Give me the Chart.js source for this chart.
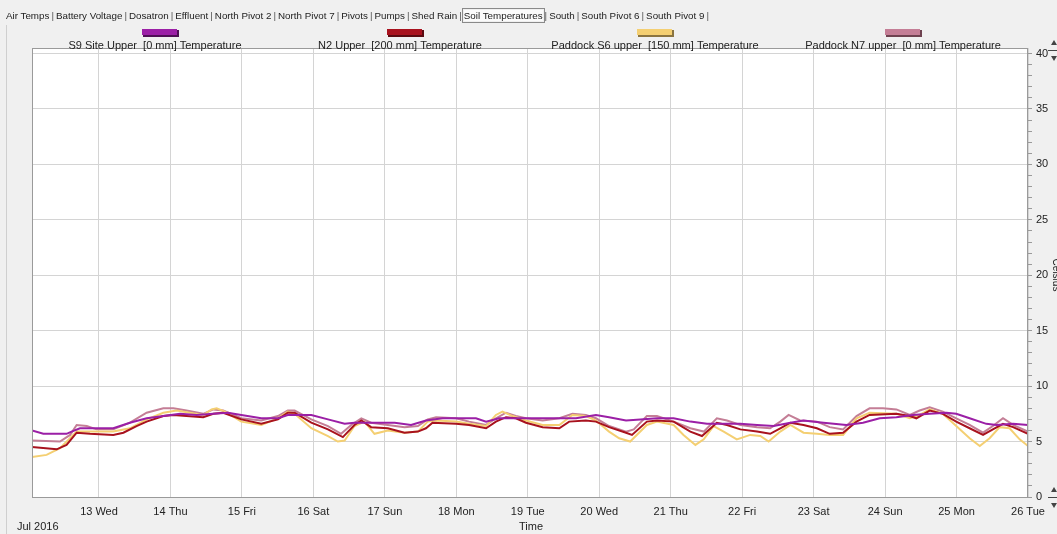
<!DOCTYPE html>
<html><head><meta charset="utf-8">
<script src="https://cdn.jsdelivr.net/npm/chart.js@4.4.1/dist/chart.umd.min.js"></script>
<style>
html,body{margin:0;padding:0;background:#f0f0f0;overflow:hidden;}
#wrap{position:relative;width:1057px;height:534px;}
#tabs{position:absolute;left:6px;top:10px;font:9.8px "Liberation Sans",Arial,sans-serif;color:#222;white-space:nowrap;z-index:2;}
#tabs span.sel{outline:1px solid #8a8a8a;outline-offset:1px;background:#fbfbfb}
#tabs span.sep{color:#555;margin:0 2px}
canvas{position:absolute;left:0;top:0}
</style></head><body>
<div id="wrap"><div id="tabs"></div><canvas id="c" width="1057" height="534"></canvas></div>
<script>
// ---- data (x = hours since 12 Jul 2016 00:00, y = °C) ----
const tabNames = ["Air Temps","Battery Voltage","Dosatron","Effluent","North Pivot 2","North Pivot 7","Pivots","Pumps","Shed Rain","Soil Temperatures","South","South Pivot 6","South Pivot 9"];
const selectedTab = "Soil Temperatures";
const tickLabels = ["13 Wed","14 Thu","15 Fri","16 Sat","17 Sun","18 Mon","19 Tue","20 Wed","21 Thu","22 Fri","23 Sat","24 Sun","25 Mon","26 Tue"];
const seriesNames = ["S9 Site Upper  [0 mm] Temperature","N2 Upper  [200 mm] Temperature","Paddock S6 upper  [150 mm] Temperature","Paddock N7 upper  [0 mm] Temperature"];

const s9Hours = [1.5,5.3,13.1,14.8,17.6,23.2,28.8,34.4,40,45.6,51.2,56.8,62.4,67.3,71.8,78.5,84.1,87.4,95.3,100.9,106.5,109.8,123.3,128.8,133.8,139.4,150.6,154,158.4,178.6,184.2,190.9,195.3,201,205.8,211.4,217,222.6,228.2,239.4,245,250.6,256.2,260.6,267.3,275,280.6,286.2,291.8,297.4,303,308.6,311.9,316.4,322,325.4,331,336];
const s9Temps = [6.0,5.7,5.7,5.9,6.2,6.2,6.2,6.7,7.1,7.3,7.5,7.4,7.5,7.6,7.4,7.1,7.1,7.4,7.4,7.0,6.6,6.7,6.7,6.5,6.9,7.1,7.1,6.8,7.1,7.1,7.1,7.4,7.2,6.9,7.0,7.1,7.1,6.8,6.6,6.6,6.5,6.4,6.7,6.9,6.7,6.5,6.7,7.1,7.2,7.4,7.5,7.6,7.5,7.1,6.6,6.5,6.6,6.5];

const n2Hours = [1.5,9.8,13.1,16.5,21,28.8,32.2,36.6,40,45.6,49,53.4,59,62.4,65.7,71.8,78.5,84.1,87.4,89.7,95.3,100.9,105.9,109.8,112.1,115.4,121,126.6,131.1,133.8,136,143.9,148.3,154,157.3,160.7,164,167.4,173,178.6,181.9,187.5,190.9,195.3,201,203,208,211.4,217,222.6,226.5,231.5,234.9,239.4,245,249.4,252.8,256.2,260.6,265.1,269.4,273.9,278.4,282.8,291.8,296.3,298.5,303,307.4,311.9,316.4,320.9,324.2,327.6,331,336];
const n2Temps = [4.5,4.3,4.7,5.8,5.7,5.6,5.8,6.4,6.8,7.3,7.4,7.3,7.2,7.5,7.6,7.0,6.6,7.0,7.6,7.6,6.7,6.1,5.4,6.5,6.9,6.3,6.2,5.8,5.9,6.2,6.7,6.6,6.5,6.2,6.8,7.2,7.1,6.7,6.3,6.2,6.8,6.9,6.8,6.3,5.8,5.6,6.8,6.9,6.8,5.9,5.5,6.7,6.5,6.1,5.9,5.7,6.2,6.7,6.5,6.2,5.7,5.8,6.8,7.4,7.5,7.3,7.1,7.8,7.5,6.8,6.2,5.6,6.1,6.6,6.3,5.7];

const s6Hours = [1.5,6.4,10.9,16.5,21,28.8,34.4,40,45.6,50.1,54.5,59,61.8,63.5,66.3,71.8,78.5,84.1,87.4,89.7,95.3,100.9,104.2,106.5,109.8,113.2,116.5,121,126.6,131.1,134.4,137.2,143.9,148.3,154,157.3,159.5,162.9,167.4,173,178.6,183,187.5,190.9,195.3,198.7,202.4,208,211.4,217,220.3,224.3,227.1,230.4,233.8,238.2,242.7,246.1,248.9,252.8,256.2,260.6,265.1,269.4,273.9,278.4,282.8,291.8,296.3,299.6,303,307.4,311.9,316.4,319.8,323.1,326.5,329.8,333.2,336];
const s6Temps = [3.6,3.8,4.4,5.9,5.9,5.9,6.2,7.0,7.6,7.8,7.6,7.4,7.9,8.0,7.7,6.8,6.5,7.1,7.7,7.5,6.2,5.5,5.0,5.1,6.4,6.8,5.7,6.0,5.8,5.9,6.8,6.9,6.8,6.6,6.4,7.4,7.7,7.3,6.9,6.5,6.5,7.4,7.3,6.9,5.9,5.3,5.0,6.5,6.8,6.5,5.6,4.7,5.2,6.4,5.9,5.2,5.6,5.5,5.0,5.9,6.5,5.8,5.7,5.6,5.6,7.1,7.6,7.5,7.1,7.4,7.9,7.5,6.4,5.3,4.6,5.3,6.3,6.2,5.2,4.6];

const n7Hours = [1.5,10.9,14.3,16.5,19.9,23.2,28.8,34.4,40,45.6,49,53.4,59,62.4,65.7,71.8,78.5,84.1,87.4,89.7,95.3,100.9,105.3,108.7,112.1,115.4,121,126.6,131.1,134.4,137.2,143.9,148.3,154,157.3,160.7,164,167.4,173,178.6,183,187.5,190.9,195.3,201,203.6,208,211.4,217,222.6,227.1,231.5,234.9,239.4,245,249.4,252.8,255.6,259.5,265.1,269.4,273.9,278.4,282.8,287.3,291.8,296.3,299.6,303,307.4,311.9,316.4,320.9,324.2,327.6,331,336];
const n7Temps = [5.1,5.0,5.6,6.5,6.4,6.1,6.1,6.7,7.6,8.0,8.0,7.8,7.5,7.9,7.8,7.1,6.9,7.3,7.8,7.8,7.0,6.4,5.7,6.5,7.1,6.7,6.5,6.3,6.4,7.0,7.2,7.1,6.8,6.5,7.1,7.6,7.3,7.1,6.9,7.1,7.5,7.4,7.1,6.4,5.9,6.1,7.3,7.3,6.8,6.2,5.9,7.1,6.9,6.5,6.3,6.2,6.8,7.4,6.9,6.8,6.3,6.1,7.3,8.0,8.0,7.9,7.4,7.8,8.1,7.7,7.1,6.5,5.8,6.4,7.1,6.5,5.9];

const seriesColors = ["#9b1fa6","#a8121e","#f4cf72","#c47e96"];
const swatchShadow = ["#4e0f55","#5a0a10","#8a7440","#6e4250"];

// ---- tabs ----
const tabsEl = document.getElementById('tabs');
tabNames.forEach((n,i)=>{
  const s=document.createElement('span'); s.textContent=n; if(n===selectedTab) s.className='sel'; tabsEl.appendChild(s);
  const p=document.createElement('span'); p.textContent='|'; p.className='sep'; tabsEl.appendChild(p);
});

const FONT = '"Liberation Sans", Arial, sans-serif';
const toPts = (h,t)=>h.map((x,i)=>({x, y:t[i]}));
const mk = (i,h,t)=>({label:seriesNames[i], data:toPts(h,t), borderColor:seriesColors[i], backgroundColor:seriesColors[i], borderWidth:2, pointRadius:0, tension:0, fill:false});

const frame = {
  id:'frame',
  beforeDraw(chart){
    const {ctx, chartArea:a} = chart;
    ctx.save();
    ctx.strokeStyle='#cfcfcf'; ctx.lineWidth=1;
    ctx.beginPath(); ctx.moveTo(6.5,25); ctx.lineTo(6.5,534); ctx.stroke();
    ctx.fillStyle='#ffffff'; ctx.fillRect(a.left,a.top,a.right-a.left,a.bottom-a.top);
    ctx.restore();
  },
  afterDraw(chart){
    const {ctx, chartArea:a} = chart;
    ctx.save();
    ctx.strokeStyle='#9a9a9a'; ctx.lineWidth=1;
    ctx.strokeRect(Math.round(a.left)+0.5, Math.round(a.top)+0.5, Math.round(a.right-a.left)-1, Math.round(a.bottom-a.top));
    // legend
    const textCx=[155,400,655,903], swCx=[160,405,655,903];
    ctx.font='11px '+FONT; ctx.fillStyle='#222'; ctx.textAlign='center'; ctx.textBaseline='middle';
    seriesNames.forEach((n,i)=>{
      ctx.fillStyle='#222'; ctx.fillText(n, textCx[i], 46);
      const x=swCx[i]-18;
      ctx.fillStyle=swatchShadow[i]; ctx.fillRect(x+1,30,36,7);
      ctx.fillStyle=seriesColors[i]; ctx.fillRect(x,29,35,6);
    });
    // axis captions
    ctx.fillStyle='#222'; ctx.font='11px '+FONT;
    ctx.textAlign='left'; ctx.fillText('Jul 2016', 17, 527);
    ctx.textAlign='center'; ctx.fillText('Time', 531, 527);
    ctx.save(); ctx.translate(1056, 275); ctx.rotate(Math.PI/2); ctx.font='10px '+FONT; ctx.fillText('Celsius',0,0); ctx.restore();
    // pan arrows at the right edge
    ctx.strokeStyle='#444'; ctx.fillStyle='#444';
    [40, 487].forEach(y=>{
      ctx.beginPath(); ctx.moveTo(1051,y+5); ctx.lineTo(1054,y); ctx.lineTo(1057,y+5); ctx.closePath(); ctx.fill();
      ctx.beginPath(); ctx.moveTo(1048,y+10.5); ctx.lineTo(1057,y+10.5); ctx.stroke();
      ctx.beginPath(); ctx.moveTo(1051,y+16); ctx.lineTo(1054,y+21); ctx.lineTo(1057,y+16); ctx.closePath(); ctx.fill();
    });
    ctx.restore();
  }
};

new Chart(document.getElementById('c'), {
  type:'line',
  data:{datasets:[mk(0,s9Hours,s9Temps), mk(1,n2Hours,n2Temps), mk(2,s6Hours,s6Temps), mk(3,n7Hours,n7Temps)]},
  options:{
    responsive:false, animation:false, devicePixelRatio:1,
    layout:{padding:{left:32, top:48, right:0, bottom:0}},
    plugins:{legend:{display:false}, tooltip:{enabled:false}},
    scales:{
      x:{type:'linear', min:1.5, max:336,
        afterBuildTicks:s=>{ s.ticks = tickLabels.map((_,i)=>({value:(i+1)*24})); },
        ticks:{autoSkip:false, maxRotation:0, font:{family:FONT,size:11}, color:'#222', padding:8,
          callback:(v,i)=>tickLabels[i]},
        grid:{color:'#d4d4d4', drawTicks:false},
        border:{display:false},
        afterFit:s=>{ s.height=37; }
      },
      y:{position:'right', min:0, max:40.5,
        afterBuildTicks:s=>{ const t=[]; for(let v=0; v<=40; v++) t.push({value:v}); s.ticks=t; },
        ticks:{autoSkip:false, font:{family:FONT,size:11}, color:'#222', padding:4,
          callback:v=> v%5===0 ? String(v) : ''},
        grid:{color:c=> (c.tick && c.tick.value%5===0) ? '#d4d4d4' : 'rgba(0,0,0,0)', tickColor:'#9a9a9a', tickLength:4},
        border:{display:false},
        afterFit:s=>{ s.width=29; }
      }
    }
  },
  plugins:[frame]
});
</script>
</body></html>
